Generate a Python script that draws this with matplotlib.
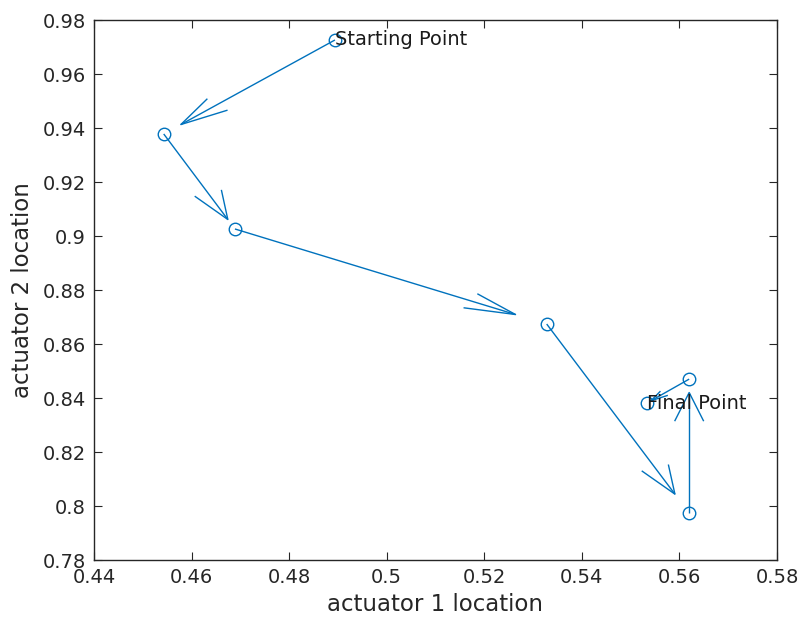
import numpy as np
import matplotlib
matplotlib.use("Agg")
import matplotlib.pyplot as plt

# Data
act1 = [0.4894, 0.4543, 0.4689, 0.5328, 0.5620, 0.5620, 0.5533]
act2 = [0.9726, 0.9378, 0.9026, 0.8674, 0.7974, 0.8470, 0.8381]
xticks = [0.44, 0.46, 0.48, 0.50, 0.52, 0.54, 0.56, 0.58]
xticklabels = ["0.44", "0.46", "0.48", "0.5", "0.52", "0.54", "0.56", "0.58"]
yticks = [0.78, 0.80, 0.82, 0.84, 0.86, 0.88, 0.90, 0.92, 0.94, 0.96, 0.98]
yticklabels = ["0.78", "0.8", "0.82", "0.84", "0.86", "0.88", "0.9", "0.92", "0.94", "0.96", "0.98"]

color = "#0072BD"
dark = "#262626"

fig = plt.figure(figsize=(8.03, 6.31), dpi=100)
ax = fig.add_axes([0.117, 0.1125, 0.8506, 0.8558])

x = np.array(act1)
y = np.array(act2)
scale = 0.9
u = (x[1:] - x[:-1]) * scale
v = (y[1:] - y[:-1]) * scale
H = 0.0104
beta = 0.28
for xi, yi, ui, vi in zip(x[:-1], y[:-1], u, v):
    L = np.hypot(ui, vi)
    a = min(0.33, H / L)
    tx, ty = xi + ui, yi + vi
    ax.plot([xi, tx], [yi, ty], color=color, lw=1.0, solid_capstyle="butt")
    e1 = (tx - a * (ui + beta * vi), ty - a * (vi - beta * ui))
    e2 = (tx - a * (ui - beta * vi), ty - a * (vi + beta * ui))
    ax.plot([e1[0], tx, e2[0]], [e1[1], ty, e2[1]], color=color, lw=1.0)

ax.plot(x, y, linestyle="none", marker="o", markersize=9, markerfacecolor="none",
        markeredgecolor=color, markeredgewidth=1.0)

ax.text(x[0], y[0], "Starting Point", ha="left", va="center", fontsize=14, color="#1a1a1a")
ax.text(x[-1], y[-1], "Final Point", ha="left", va="center", fontsize=14, color="#1a1a1a")

ax.set_xlim(0.44, 0.58)
ax.set_ylim(0.78, 0.98)
ax.set_xticks(xticks)
ax.set_xticklabels(xticklabels)
ax.set_yticks(yticks)
ax.set_yticklabels(yticklabels)
ax.tick_params(direction="in", length=6, width=0.8, colors=dark, labelsize=14,
               top=True, right=True, pad=6)
for s in ax.spines.values():
    s.set_color(dark)
    s.set_linewidth(1.0)
ax.set_xlabel("actuator 1 location", fontsize=16.5, color=dark, labelpad=4)
ax.set_ylabel("actuator 2 location", fontsize=16.5, color=dark, labelpad=6)

fig.savefig("out.png", dpi=100)
